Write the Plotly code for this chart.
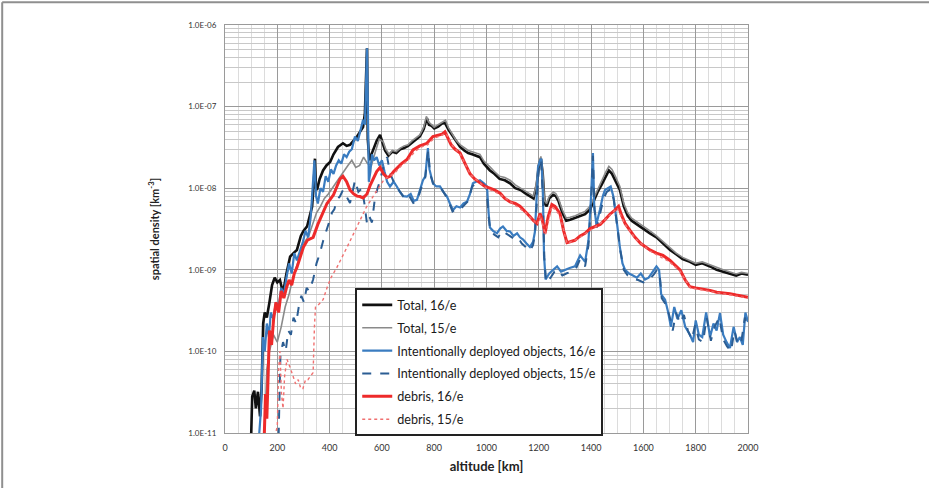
import plotly.graph_objects as go

# ---- spatial density vs altitude, six series (altitude in km, density in km^-3) ----
total16_alt = [100, 104, 112, 118, 126, 134, 140, 146, 152, 160, 170, 180, 190, 200, 210, 222, 235, 249, 262, 275,
               290, 300, 314, 325, 333, 340, 344, 348, 352, 362, 375, 388, 402, 415, 432, 451, 465, 478, 492, 505,
               518, 528, 535, 540, 543, 546, 552, 560, 570, 580, 593, 602, 612, 625, 640, 655, 670, 685, 700, 715,
               730, 745, 760, 772, 780, 790, 800, 815, 830, 841, 855, 870, 885, 899, 915, 930, 945, 960, 975, 990,
               1005, 1013, 1030, 1050, 1070, 1090, 1110, 1130, 1150, 1166, 1180, 1192, 1200, 1208, 1215, 1222, 1230,
               1240, 1255, 1265, 1275, 1290, 1305, 1320, 1340, 1358, 1377, 1396, 1410, 1425, 1440, 1455, 1468, 1480,
               1495, 1510, 1525, 1540, 1555, 1575, 1600, 1625, 1650, 1675, 1702, 1725, 1750, 1778, 1800, 1825, 1855,
               1880, 1905, 1931, 1955, 1975, 2000]
total16_val = [9e-12, 2.8e-11, 3.3e-11, 2.0e-11, 3.2e-11, 1.6e-11, 3.5e-11, 2.2e-10, 3.0e-10, 2.6e-10, 4.0e-10, 6.5e-10,
               8.0e-10, 7.0e-10, 7.5e-10, 5.2e-10, 9.0e-10, 1.45e-09, 1.6e-09, 1.75e-09, 2.6e-09, 3.0e-09, 3.4e-09,
               4.5e-09, 5.9e-09, 1.2e-08, 2.3e-08, 1.0e-08, 9.5e-09, 1.3e-08, 1.65e-08, 1.9e-08, 2.1e-08, 2.6e-08,
               3.2e-08, 3.55e-08, 3.3e-08, 3.4e-08, 3.8e-08, 4.3e-08, 5.0e-08, 5.6e-08, 8.3e-08, 3.0e-07, 5.2e-07,
               4.0e-08, 2.2e-08, 2.6e-08, 3.2e-08, 3.8e-08, 4.5e-08, 3.6e-08, 2.9e-08, 2.5e-08, 2.8e-08, 2.7e-08,
               3.0e-08, 3.1e-08, 3.3e-08, 3.6e-08, 3.9e-08, 4.3e-08, 5.3e-08, 7.2e-08, 6.0e-08, 5.8e-08, 5.4e-08,
               5.7e-08, 6.2e-08, 6.3e-08, 5.2e-08, 4.4e-08, 3.6e-08, 3.2e-08, 2.9e-08, 2.7e-08, 2.6e-08, 2.5e-08,
               2.4e-08, 2.0e-08, 1.75e-08, 1.65e-08, 1.5e-08, 1.3e-08, 1.25e-08, 1.15e-08, 1.0e-08, 9.5e-09, 8.6e-09,
               7.9e-09, 7.5e-09, 1.1e-08, 1.9e-08, 2.3e-08, 1.5e-08, 6.5e-09, 6.0e-09, 7.5e-09, 8.3e-09, 8.0e-09,
               7.0e-09, 5.0e-09, 4.0e-09, 4.1e-09, 4.3e-09, 4.5e-09, 4.8e-09, 5.5e-09, 7.0e-09, 9.0e-09, 1.1e-08,
               1.4e-08, 1.65e-08, 1.5e-08, 1.2e-08, 9.5e-09, 6.0e-09, 4.6e-09, 4.0e-09, 3.6e-09, 3.2e-09, 2.8e-09,
               2.5e-09, 2.1e-09, 1.75e-09, 1.55e-09, 1.35e-09, 1.25e-09, 1.15e-09, 1.2e-09, 1.1e-09, 1.0e-09, 9.5e-10,
               9.0e-10, 8.5e-10, 9.0e-10, 8.7e-10]

total15_alt = [150, 160, 170, 185, 200, 215, 230, 245, 260, 275, 290, 305, 320, 335, 350, 365, 380, 395, 410, 425,
               440, 455, 470, 485, 500, 515, 530, 545, 560, 575, 590, 605, 615, 628, 640, 655, 670, 685, 700, 715,
               730, 745, 760, 770, 778, 790, 800, 815, 830, 843, 855, 870, 885, 900, 915, 930, 945, 960, 975, 990,
               1005, 1015, 1030, 1050, 1070, 1090, 1110, 1130, 1150, 1166, 1180, 1192, 1200, 1208, 1215, 1222, 1230,
               1240, 1255, 1265, 1275, 1290, 1305, 1320, 1340, 1358, 1377, 1396, 1410, 1425, 1440, 1455, 1468, 1480,
               1495, 1510, 1525, 1540, 1555, 1575, 1600, 1625, 1650, 1675, 1702, 1725, 1750, 1778, 1800, 1825, 1855,
               1880, 1905, 1931, 1955, 1975, 2000]
total15_val = [9e-12, 6e-11, 1.0e-10, 1.6e-10, 1.3e-10, 2.0e-10, 3.5e-10, 5.0e-10, 8.0e-10, 1.1e-09, 1.5e-09, 2.2e-09,
               2.6e-09, 3.5e-09, 5.0e-09, 6.0e-09, 7.5e-09, 8.5e-09, 1.0e-08, 1.2e-08, 1.4e-08, 1.6e-08, 1.9e-08,
               2.2e-08, 1.8e-08, 1.9e-08, 2.4e-08, 2.0e-08, 1.9e-08, 2.8e-08, 4.0e-08, 3.7e-08, 3.0e-08, 2.6e-08,
               2.9e-08, 2.8e-08, 3.1e-08, 3.3e-08, 3.4e-08, 3.8e-08, 4.1e-08, 4.5e-08, 5.6e-08, 7.6e-08, 6.5e-08,
               6.0e-08, 5.6e-08, 6.0e-08, 6.5e-08, 6.8e-08, 5.5e-08, 4.6e-08, 3.8e-08, 3.4e-08, 3.1e-08, 2.9e-08,
               2.8e-08, 2.7e-08, 2.6e-08, 2.15e-08, 1.9e-08, 1.8e-08, 1.6e-08, 1.4e-08, 1.35e-08, 1.25e-08, 1.1e-08,
               1.0e-08, 9.2e-09, 8.5e-09, 8.0e-09, 1.2e-08, 2.0e-08, 2.45e-08, 1.6e-08, 7.0e-09, 6.5e-09, 8.0e-09,
               9.0e-09, 8.6e-09, 7.5e-09, 5.4e-09, 4.3e-09, 4.4e-09, 4.6e-09, 4.9e-09, 5.2e-09, 6.0e-09, 7.6e-09,
               9.8e-09, 1.2e-08, 1.55e-08, 1.85e-08, 1.7e-08, 1.35e-08, 1.05e-08, 6.5e-09, 5.0e-09, 4.3e-09, 3.9e-09,
               3.4e-09, 3.0e-09, 2.6e-09, 2.2e-09, 1.85e-09, 1.6e-09, 1.42e-09, 1.3e-09, 1.2e-09, 1.25e-09, 1.15e-09,
               1.05e-09, 1.0e-09, 9.4e-10, 8.9e-10, 9.3e-10, 9.0e-10]

deployed16_alt = [130, 138, 145, 152, 160, 168, 175, 185, 195, 205, 215, 225, 235, 245, 255, 265, 275, 287, 298, 308,
                  318, 328, 337, 342, 348, 355, 365, 375, 385, 395, 405, 415, 425, 435, 445, 455, 465, 475, 485, 497,
                  508, 518, 528, 535, 540, 543, 546, 550, 556, 562, 570, 580, 590, 600, 610, 620, 631, 645, 657, 669,
                  682, 696, 710, 722, 734, 745, 757, 766, 772, 776, 782, 795, 808, 822, 835, 849, 860, 872, 885, 899,
                  912, 925, 937, 948, 960, 975, 990, 1002, 1008, 1013, 1025, 1040, 1052, 1063, 1077, 1090, 1103, 1117,
                  1128, 1140, 1153, 1166, 1178, 1185, 1192, 1197, 1205, 1210, 1216, 1220, 1226, 1240, 1255, 1270, 1285,
                  1300, 1318, 1338, 1358, 1377, 1390, 1400, 1407, 1412, 1420, 1434, 1445, 1453, 1465, 1475, 1485, 1491,
                  1500, 1510, 1520, 1530, 1545, 1560, 1575, 1590, 1606, 1620, 1635, 1650, 1660, 1668, 1683, 1695, 1705,
                  1718, 1730, 1745, 1760, 1778, 1790, 1800, 1812, 1825, 1840, 1855, 1868, 1880, 1893, 1905, 1918, 1931,
                  1945, 1958, 1969, 1980, 1990, 2000]
deployed16_val = [9e-12, 2.0e-11, 1.5e-10, 1.0e-10, 2.2e-10, 1.5e-10, 3.0e-10, 2.5e-10, 4.0e-10, 3.5e-10, 6.0e-10,
                  5.0e-10, 8.0e-10, 1.2e-09, 9.0e-10, 1.6e-09, 1.3e-09, 1.7e-09, 2.2e-09, 3.0e-09, 2.5e-09, 4.5e-09,
                  1.6e-08, 2.2e-08, 8.0e-09, 6.5e-09, 1.0e-08, 9.0e-09, 1.4e-08, 1.2e-08, 1.7e-08, 1.5e-08, 1.9e-08,
                  2.2e-08, 2.0e-08, 2.6e-08, 2.4e-08, 2.8e-08, 3.0e-08, 4.3e-08, 3.8e-08, 5.0e-08, 6.9e-08, 6.0e-08,
                  2.0e-07, 5.2e-07, 1.2e-07, 1.2e-08, 1.6e-08, 2.6e-08, 2.2e-08, 2.4e-08, 1.9e-08, 2.2e-08, 1.6e-08,
                  1.2e-08, 1.05e-08, 1.2e-08, 1.05e-08, 9.0e-09, 8.0e-09, 7.9e-09, 8.5e-09, 7.0e-09, 7.2e-09, 9.5e-09,
                  1.25e-08, 1.4e-08, 2.4e-08, 3.1e-08, 1.7e-08, 1.15e-08, 1.05e-08, 1.05e-08, 9.0e-09, 7.9e-09, 6.5e-09,
                  5.4e-09, 6.0e-09, 5.8e-09, 6.5e-09, 6.8e-09, 8.5e-09, 1.15e-08, 1.2e-08, 1.25e-08, 1.15e-08, 1.05e-08,
                  5.0e-09, 3.3e-09, 3.0e-09, 2.8e-09, 3.2e-09, 3.4e-09, 3.0e-09, 2.95e-09, 2.6e-09, 2.8e-09, 2.5e-09,
                  2.35e-09, 2.1e-09, 1.9e-09, 2.2e-09, 2.9e-09, 8.0e-09, 1.8e-08, 2.2e-08, 2.3e-08, 8.0e-09, 1.5e-09,
                  7.6e-10, 9.0e-10, 1.0e-09, 1.1e-09, 9.5e-10, 1.0e-09, 1.05e-09, 1.1e-09, 1.5e-09, 1.25e-09, 2.3e-09,
                  8.0e-09, 2.7e-08, 6.0e-09, 3.6e-09, 5.5e-09, 8.0e-09, 9.5e-09, 1.0e-08, 1.05e-08, 8.0e-09, 6.0e-09,
                  3.5e-09, 1.9e-09, 1.2e-09, 1.0e-09, 9.0e-10, 8.5e-10, 8.0e-10, 9.0e-10, 7.6e-10, 8.0e-10, 9.5e-10,
                  1.1e-09, 1.0e-09, 5.0e-10, 4.3e-10, 3.0e-10, 2.0e-10, 3.5e-10, 2.5e-10, 3.2e-10, 2.0e-10, 1.6e-10,
                  1.3e-10, 2.4e-10, 1.6e-10, 1.5e-10, 3.0e-10, 1.5e-10, 2.2e-10, 1.8e-10, 2.95e-10, 1.6e-10, 1.3e-10,
                  1.1e-10, 2.0e-10, 1.3e-10, 1.5e-10, 1.2e-10, 3.0e-10, 2.3e-10]

deployed15_alt = [205, 212, 222, 232, 242, 252, 262, 272, 282, 292, 302, 312, 322, 330, 337, 350, 363, 376, 390, 400,
                  409, 418, 428, 440, 451, 465, 478, 488, 497, 510, 524, 533, 543, 552, 562, 574, 584, 593, 605, 620,
                  632, 645, 660, 675, 690, 705, 720, 735, 750, 765, 772, 777, 784, 798, 812, 830, 850, 870, 885, 900,
                  915, 930, 945, 960, 980, 1000, 1008, 1015, 1030, 1045, 1060, 1075, 1090, 1105, 1120, 1135, 1150, 1165,
                  1178, 1186, 1193, 1200, 1209, 1216, 1221, 1228, 1245, 1260, 1275, 1290, 1305, 1320, 1340, 1358, 1377,
                  1390, 1400, 1407, 1413, 1422, 1435, 1448, 1460, 1475, 1487, 1500, 1512, 1525, 1540, 1560, 1580, 1600,
                  1620, 1640, 1652, 1662, 1670, 1685, 1700, 1712, 1725, 1740, 1755, 1770, 1785, 1798, 1812, 1828, 1842,
                  1858, 1872, 1890, 1905, 1920, 1935, 1948, 1962, 1975, 1988, 2000]
deployed15_val = [9e-12, 9e-11, 1.3e-10, 1.0e-10, 1.8e-10, 1.6e-10, 2.6e-10, 2.2e-10, 3.5e-10, 4.8e-10, 4.0e-10,
                  6.0e-10, 5.5e-10, 6.5e-10, 7.6e-10, 1.2e-09, 1.6e-09, 2.3e-09, 3.1e-09, 4.0e-09, 5.0e-09, 5.5e-09,
                  7.2e-09, 8.0e-09, 9.5e-09, 8.0e-09, 6.6e-09, 9.0e-09, 1.25e-08, 9.0e-09, 1.0e-08, 6.5e-09, 3.7e-09,
                  4.5e-09, 3.8e-09, 7.9e-09, 1.0e-08, 1.25e-08, 1.8e-08, 2.4e-08, 1.5e-08, 1.2e-08, 1.0e-08, 8.5e-09,
                  7.2e-09, 8.0e-09, 6.6e-09, 7.0e-09, 1.0e-08, 1.3e-08, 2.2e-08, 2.9e-08, 1.5e-08, 1.1e-08, 1.0e-08,
                  9.6e-09, 7.5e-09, 5.2e-09, 5.6e-09, 5.5e-09, 6.2e-09, 7.0e-09, 1.05e-08, 1.15e-08, 1.2e-08, 1.0e-08,
                  4.5e-09, 3.0e-09, 2.7e-09, 2.5e-09, 3.0e-09, 2.8e-09, 2.6e-09, 2.4e-09, 2.5e-09, 2.1e-09, 1.9e-09,
                  1.7e-09, 2.0e-09, 2.8e-09, 7.5e-09, 1.7e-08, 2.2e-08, 7.0e-09, 1.4e-09, 7.0e-10, 8.0e-10, 9.5e-10,
                  1.0e-09, 8.5e-10, 9.0e-10, 9.5e-10, 1.0e-09, 1.35e-09, 1.1e-09, 2.0e-09, 7.0e-09, 2.5e-08, 5.5e-09,
                  3.3e-09, 5.0e-09, 7.5e-09, 9.0e-09, 9.8e-09, 7.2e-09, 3.2e-09, 1.7e-09, 1.0e-09, 8.5e-10, 7.8e-10,
                  7.5e-10, 7.0e-10, 7.4e-10, 8.8e-10, 1.0e-09, 9.0e-10, 4.5e-10, 3.8e-10, 2.7e-10, 1.8e-10, 3.0e-10,
                  2.2e-10, 2.8e-10, 1.8e-10, 1.4e-10, 2.1e-10, 1.4e-10, 1.3e-10, 2.6e-10, 1.35e-10, 2.0e-10, 2.6e-10,
                  1.4e-10, 1.15e-10, 1.0e-10, 1.8e-10, 1.2e-10, 1.35e-10, 2.6e-10, 2.0e-10]

debris16_alt = [150, 155, 160, 165, 170, 178, 186, 195, 205, 215, 225, 235, 245, 255, 265, 275, 288, 300, 315, 337,
                355, 375, 390, 405, 415, 428, 440, 451, 465, 478, 492, 505, 516, 528, 543, 556, 568, 580, 593, 606,
                620, 631, 645, 660, 675, 696, 719, 745, 772, 795, 815, 830, 841, 850, 865, 880, 899, 918, 937, 955,
                975, 994, 1013, 1032, 1052, 1070, 1090, 1110, 1128, 1148, 1166, 1180, 1193, 1205, 1214, 1224, 1236,
                1250, 1262, 1281, 1295, 1308, 1322, 1338, 1358, 1377, 1396, 1415, 1435, 1453, 1472, 1491, 1505, 1515,
                1530, 1550, 1568, 1590, 1610, 1625, 1650, 1675, 1702, 1720, 1740, 1760, 1778, 1800, 1830, 1855, 1880,
                1905, 1931, 1955, 1975, 2000]
debris16_val = [9e-12, 3e-11, 1.5e-11, 6e-11, 1.8e-10, 1.2e-10, 2.5e-10, 4.0e-10, 3.0e-10, 5.5e-10, 4.5e-10, 6.0e-10,
                7.5e-10, 6.5e-10, 9.0e-10, 1.07e-09, 1.5e-09, 1.9e-09, 2.3e-09, 2.5e-09, 3.6e-09, 5.0e-09, 6.5e-09,
                7.5e-09, 8.3e-09, 1.05e-08, 1.3e-08, 1.4e-08, 1.2e-08, 9.5e-09, 8.5e-09, 8.0e-09, 7.9e-09, 7.6e-09,
                8.5e-09, 1.1e-08, 1.3e-08, 1.6e-08, 1.8e-08, 1.5e-08, 1.35e-08, 1.4e-08, 1.6e-08, 1.8e-08, 2.0e-08,
                2.25e-08, 2.95e-08, 3.3e-08, 3.55e-08, 4.3e-08, 4.5e-08, 4.6e-08, 4.9e-08, 4.2e-08, 3.4e-08, 3.0e-08,
                2.7e-08, 2.0e-08, 1.5e-08, 1.3e-08, 1.15e-08, 1.05e-08, 1.0e-08, 9.5e-09, 8.7e-09, 7.5e-09, 6.8e-09,
                6.5e-09, 6.0e-09, 5.2e-09, 4.5e-09, 4.0e-09, 3.7e-09, 4.9e-09, 4.0e-09, 2.8e-09, 4.5e-09, 6.3e-09,
                6.0e-09, 4.9e-09, 3.0e-09, 2.15e-09, 2.2e-09, 2.3e-09, 2.6e-09, 2.8e-09, 3.2e-09, 3.4e-09, 3.6e-09,
                4.1e-09, 4.8e-09, 5.4e-09, 6.0e-09, 4.8e-09, 3.7e-09, 3.0e-09, 2.5e-09, 2.1e-09, 1.9e-09, 1.75e-09,
                1.6e-09, 1.5e-09, 1.3e-09, 1.15e-09, 1.0e-09, 7.5e-10, 6.2e-10, 6.0e-10, 5.8e-10, 5.6e-10, 5.3e-10,
                5.2e-10, 5.1e-10, 4.9e-10, 4.8e-10, 4.6e-10]

debris15_alt = [190, 200, 205, 210, 216, 222, 228, 237, 248, 260, 270, 280, 290, 298, 308, 317, 328, 337, 342, 346,
                360, 375, 390, 405, 428, 445, 467, 490, 516, 540, 566, 593, 610, 630, 650, 675, 700, 725, 750, 775,
                800, 825, 845, 870, 900, 940, 1000, 1050, 1100, 1150, 1195, 1205, 1225, 1250, 1280, 1308, 1350, 1400,
                1450, 1500, 1530, 1570, 1625, 1700, 1740, 1780, 1850, 1930, 2000]
debris15_val = [9e-12, 1.2e-11, 6e-11, 1.0e-10, 3.0e-11, 2.0e-11, 5.0e-11, 8.0e-11, 6.5e-11, 5.0e-11, 4.0e-11, 4.5e-11,
                3.5e-11, 3.5e-11, 4.5e-11, 4.5e-11, 5.0e-11, 5.5e-11, 2.0e-10, 3.5e-10, 3.8e-10, 4.3e-10, 6.0e-10,
                8.0e-10, 1.07e-09, 1.4e-09, 1.9e-09, 2.7e-09, 4.1e-09, 5.8e-09, 7.9e-09, 1.05e-08, 1.3e-08, 1.4e-08,
                1.55e-08, 1.9e-08, 2.2e-08, 2.8e-08, 3.2e-08, 3.4e-08, 4.1e-08, 4.4e-08, 4.7e-08, 3.3e-08, 2.6e-08,
                1.45e-08, 1.0e-08, 8.5e-09, 6.6e-09, 5.0e-09, 3.6e-09, 4.7e-09, 2.7e-09, 6.0e-09, 4.7e-09, 2.1e-09,
                2.4e-09, 3.1e-09, 4.0e-09, 5.7e-09, 3.6e-09, 2.4e-09, 1.7e-09, 1.25e-09, 9.6e-10, 6.0e-10, 5.5e-10,
                5.0e-10, 4.5e-10]

series_names = ["Total, 16/e", "Total, 15/e", "Intentionally deployed objects, 16/e",
                "Intentionally deployed objects, 15/e", "debris, 16/e", "debris, 15/e"]

y_tick_vals = [1e-11, 1e-10, 1e-09, 1e-08, 1e-07, 1e-06]
y_tick_text = ["1.0E-11", "1.0E-10", "1.0E-09", "1.0E-08", "1.0E-07", "1.0E-06"]
x_tick_vals = [0, 200, 400, 600, 800, 1000, 1200, 1400, 1600, 1800, 2000]

FONT = "Lato, 'Open Sans', sans-serif"

styles = [
    dict(color="#111111", width=2.6, dash="solid"),
    dict(color="#8a8a8a", width=1.6, dash="solid"),
    dict(color="#3a7cc0", width=2.2, dash="solid"),
    dict(color="#2b5d93", width=2.0, dash="dash"),
    dict(color="#ee2a2a", width=3.0, dash="solid"),
    dict(color="#f07070", width=1.4, dash="dot"),
]

data = [
    (total16_alt, total16_val),
    (total15_alt, total15_val),
    (deployed16_alt, deployed16_val),
    (deployed15_alt, deployed15_val),
    (debris16_alt, debris16_val),
    (debris15_alt, debris15_val),
]

fig = go.Figure()
for i, ((xs, ys), name, st) in enumerate(zip(data, series_names, styles)):
    fig.add_trace(go.Scatter(
        x=xs, y=ys, name=name, mode="lines",
        line=dict(color=st["color"], width=st["width"], dash=st["dash"]),
        legendgroup=f"g{i}",
    ))

fig.update_xaxes(
    range=[0, 2000], tickvals=x_tick_vals, ticks="", showgrid=True,
    gridcolor="#9a9a9a", gridwidth=1,
    minor=dict(dtick=50, showgrid=True, gridcolor="#dcdcdc", gridwidth=1),
    showline=True, linecolor="#9a9a9a", linewidth=1, mirror=True,
    zeroline=False, ticklabelstandoff=6,
    tickfont=dict(family=FONT, size=9, color="#333333"),
    title=dict(text="<b>altitude [km]</b>", font=dict(family=FONT, size=13, color="#222222"), standoff=10),
)
fig.update_yaxes(
    type="log", range=[-11, -6], tickvals=y_tick_vals, ticktext=y_tick_text, ticks="",
    showgrid=True, gridcolor="#9a9a9a", gridwidth=1,
    minor=dict(dtick="D1", showgrid=True, gridcolor="#c8c8c8", gridwidth=1),
    showline=True, linecolor="#9a9a9a", linewidth=1, mirror=True,
    ticklabelstandoff=6,
    tickfont=dict(family=FONT, size=8, color="#333333"),
    title=dict(text="<b>spatial density [km<sup>-3</sup>]</b>", font=dict(family=FONT, size=11, color="#222222"),
               standoff=26),
)

fig.update_layout(
    width=929, height=488,
    margin=dict(l=225, r=181, t=25, b=55),
    paper_bgcolor="white", plot_bgcolor="white",
    showlegend=True,
    legend=dict(
        x=0.249, y=0.355, xanchor="left", yanchor="top",
        bgcolor="white", bordercolor="#222222", borderwidth=2,
        font=dict(family=FONT, size=12.6, color="#1a1a1a"),
        traceorder="grouped", tracegroupgap=3.5,
    ),
    shapes=[
        dict(type="line", xref="paper", yref="paper", x0=-0.426, x1=1.36, y0=1.056, y1=1.056,
             line=dict(color="#8f8f8f", width=2)),
        dict(type="line", xref="paper", yref="paper", x0=-0.426, x1=-0.426, y0=1.056, y1=-0.14,
             line=dict(color="#8f8f8f", width=2)),
    ],
)

fig.write_html("out.html")
